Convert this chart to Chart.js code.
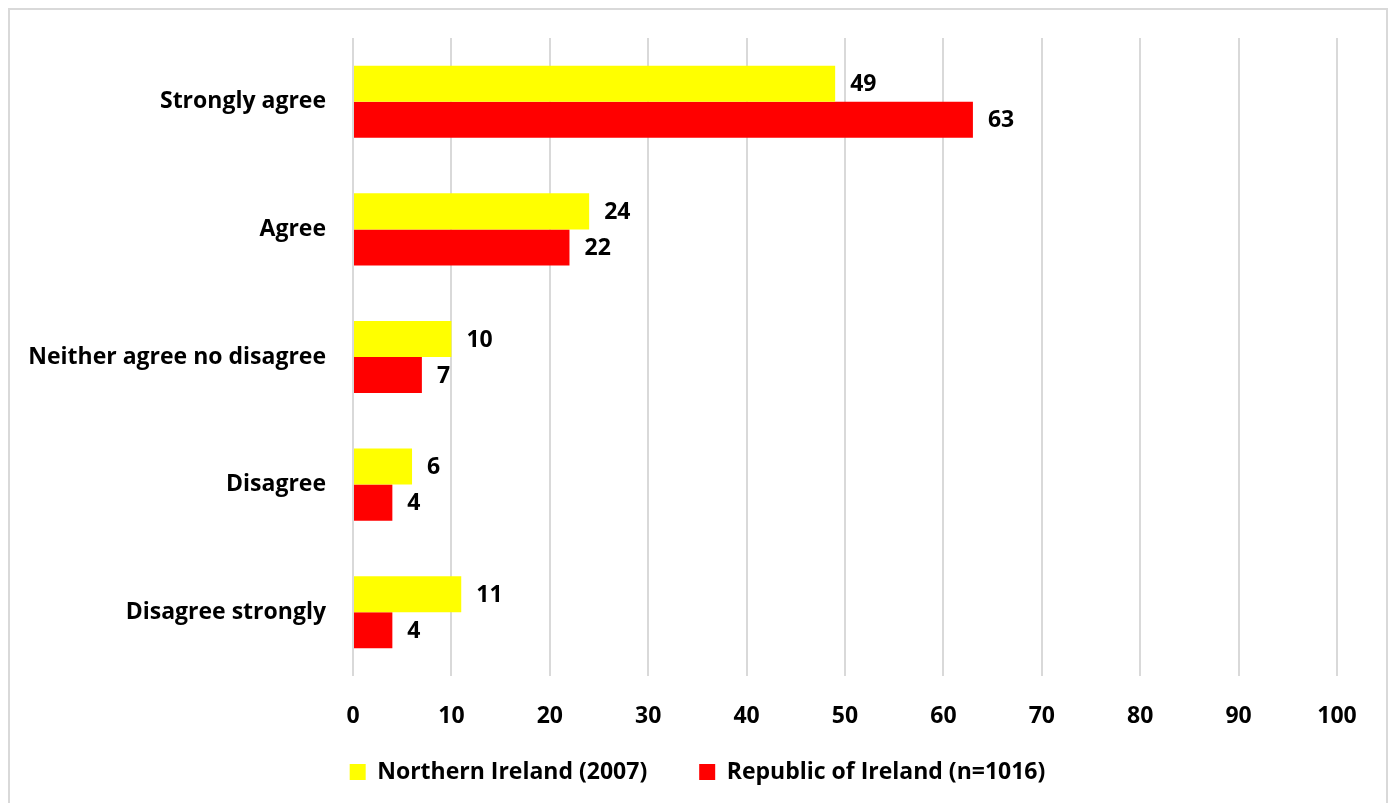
<!DOCTYPE html>
<html>
<head>
<meta charset="utf-8">
<script src="https://cdn.jsdelivr.net/npm/chart.js@4/dist/chart.umd.min.js"></script>
<style>
html,body{margin:0;padding:0;background:#fff;width:1399px;height:803px;overflow:hidden;}
#frame{position:absolute;left:8px;top:8px;width:1376px;height:820px;border:2px solid #d9d9d9;box-sizing:content-box;}
#wrap{position:absolute;left:0;top:0;width:1399px;height:803px;}
</style>
</head>
<body>
<div id="frame"></div>
<div id="wrap"><canvas id="c" width="1399" height="803"></canvas></div>
<script>
const categories = ["Strongly agree", "Agree", "Neither agree no disagree", "Disagree", "Disagree strongly"];
const seriesNames = ["Northern Ireland (2007)", "Republic of Ireland (n=1016)"];
const northernIreland = [49, 24, 10, 6, 11];
const republicOfIreland = [63, 22, 7, 4, 4];
const xTicks = [0, 10, 20, 30, 40, 50, 60, 70, 80, 90, 100];

const FONT = "'Open Sans'";
const FS = 23;
const LEGEND_PAD = 52;

const valueLabels = {
  id: 'valueLabels',
  afterDatasetsDraw(chart) {
    const ctx = chart.ctx;
    ctx.save();
    ctx.font = "bold " + FS + "px " + FONT;
    ctx.fillStyle = "#000";
    ctx.textBaseline = "middle";
    ctx.textAlign = "left";
    chart.data.datasets.forEach((ds, i) => {
      chart.getDatasetMeta(i).data.forEach((bar, j) => {
        ctx.fillText(String(ds.data[j]), bar.x + 15, bar.y + 1);
      });
    });
    ctx.restore();
  }
};

const legendPlacer = {
  id: 'legendPlacer',
  afterLayout(chart) {
    const lg = chart.legend;
    if (!lg) return;
    lg.left = -2; lg.right = chart.width - 2; lg.width = chart.width;
    lg.top = 772 - LEGEND_PAD - FS / 2; lg.bottom = chart.height; lg.height = lg.bottom - lg.top;
  }
};

new Chart(document.getElementById('c'), {
  type: 'bar',
  data: {
    labels: categories,
    datasets: [
      { label: seriesNames[0], data: northernIreland, backgroundColor: '#ffff00' },
      { label: seriesNames[1], data: republicOfIreland, backgroundColor: '#ff0000' }
    ]
  },
  options: {
    indexAxis: 'y',
    responsive: false,
    animation: false,
    devicePixelRatio: 1,
    categoryPercentage: 0.565,
    barPercentage: 1,
    layout: { padding: { left: 0, right: 62, top: 38, bottom: 0 } },
    plugins: {
      title: { display: false },
      tooltip: { enabled: false },
      legend: {
        position: 'bottom',
        maxHeight: 71,
        labels: {
          boxWidth: 16, boxHeight: 16, padding: LEGEND_PAD,
          color: '#000',
          font: { family: FONT, weight: 'bold', size: FS }
        }
      }
    },
    scales: {
      x: {
        min: 0, max: 100,
        afterBuildTicks(s) { s.ticks = xTicks.map(v => ({ value: v })); },
        afterFit(s) { s.height = 56; },
        grid: { color: '#d9d9d9', lineWidth: 2, drawTicks: false },
        border: { display: false },
        ticks: { color: '#000', padding: 27, font: { family: FONT, weight: 'bold', size: FS } }
      },
      y: {
        grid: { display: false, drawTicks: false },
        border: { display: false },
        afterFit(s) { s.width = 353; s.paddingTop = 0; s.paddingBottom = 0; },
        ticks: { color: '#000', padding: 27, font: { family: FONT, weight: 'bold', size: FS } }
      }
    }
  },
  plugins: [valueLabels, legendPlacer]
});
</script>
</body>
</html>
